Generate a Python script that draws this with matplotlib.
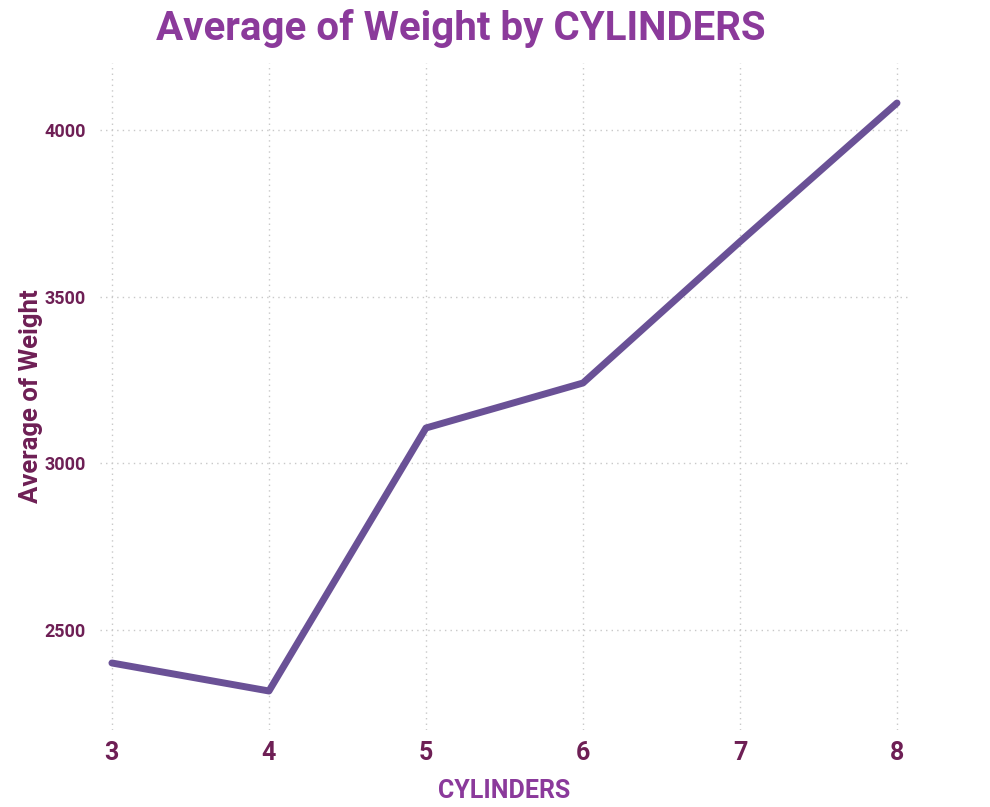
import matplotlib.pyplot as plt

cylinders = [3, 4, 5, 6, 7, 8]
avg_weight = [2401, 2317, 3106, 3241, 3665, 4081]
y_ticks = [2500, 3000, 3500, 4000]

title_color = '#8b3a9b'
label_color = '#6e1f55'
line_color = '#6a5196'

fig = plt.figure(figsize=(9.9, 8.07), dpi=100)
ax = fig.add_axes([100 / 990, 77 / 807, 808 / 990, 667 / 807])

ax.plot(cylinders, avg_weight, color=line_color, linewidth=5,
        solid_capstyle='round', solid_joinstyle='round')

ax.set_xlim(2.924, 8.07)
ax.set_ylim(2200, 4201)
ax.set_xticks(cylinders)
ax.set_yticks(y_ticks)

ax.grid(True, color='#c8c8c8', linestyle=(0, (1, 3)), linewidth=1)
for s in ax.spines.values():
    s.set_visible(False)
ax.tick_params(length=0)
ax.tick_params(axis='x', pad=8, labelsize=18, labelcolor=label_color)
ax.tick_params(axis='y', pad=10, labelsize=13, labelcolor=label_color)
for lbl in ax.get_xticklabels() + ax.get_yticklabels():
    lbl.set_fontweight('bold')
    lbl.set_family('Roboto')

ax.set_xlabel('CYLINDERS', fontsize=18, fontweight='bold', color=title_color,
              family='Roboto', labelpad=10)
ax.set_ylabel('Average of Weight', fontsize=18.5, fontweight='bold', color=label_color,
              family='Roboto', va='center')
ax.yaxis.set_label_coords(-0.085, 0.5)
fig.text(0.465, 0.965, 'Average of Weight by CYLINDERS', ha='center', va='center',
         fontsize=29, fontweight='bold', color=title_color, family='Roboto')

fig.savefig('out.png', dpi=100)
